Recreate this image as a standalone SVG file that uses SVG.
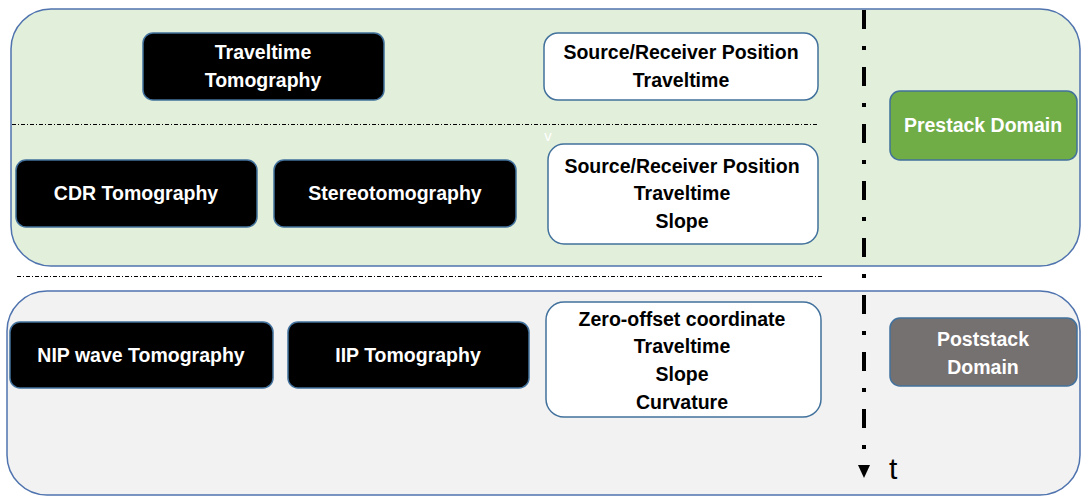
<svg xmlns="http://www.w3.org/2000/svg" width="1081" height="496" viewBox="0 0 1081 496">
  <defs>
    <style>
      .panel { stroke: #4F73AE; stroke-width: 1.5; }
      .dark { fill: #000000; stroke: #41719C; stroke-width: 1.5; }
      .light { fill: #FFFFFF; stroke: #41719C; stroke-width: 1.5; }
      .lbl { font-family: "Liberation Sans", Arial, sans-serif; font-weight: bold; font-size: 19.5px; text-anchor: middle; }
      .w { fill: #FFFFFF; }
      .k { fill: #000000; }
      .sep { stroke: #000000; stroke-width: 1; stroke-dasharray: 4 2 1 2; fill: none; }
    </style>
  </defs>
  <rect width="1081" height="496" fill="#FFFFFF"/>

  <g id="prestack-panel">
    <rect class="panel" x="11" y="9" width="1069" height="257" rx="40" ry="40" fill="#E2EFDA"/>
  </g>
  <g id="poststack-panel">
    <rect class="panel" x="7" y="291" width="1073" height="204" rx="40" ry="40" fill="#F2F2F2"/>
  </g>

  <g id="separators">
    <line class="sep" x1="12" y1="124.5" x2="818" y2="124.5"/>
    <line class="sep" x1="17" y1="276.5" x2="822" y2="276.5"/>
  </g>

  <g id="n-traveltime-tomo">
    <rect class="dark" x="143" y="33" width="241" height="67" rx="10"/>
    <text class="lbl w" x="263" y="59">Traveltime</text>
    <text class="lbl w" x="263" y="87">Tomography</text>
  </g>
  <g id="n-src-rcv-1">
    <rect class="light" x="544" y="33" width="274" height="67" rx="14"/>
    <text class="lbl k" x="681" y="59">Source/Receiver Position</text>
    <text class="lbl k" x="681" y="87">Traveltime</text>
  </g>
  <g id="n-prestack">
    <rect x="890" y="91" width="187" height="69" rx="10" fill="#70AD47" stroke="#41719C" stroke-width="1.5"/>
    <text class="lbl w" x="983" y="132">Prestack Domain</text>
  </g>
  <g id="n-cdr">
    <rect class="dark" x="16" y="160" width="241" height="67" rx="10"/>
    <text class="lbl w" x="136" y="200">CDR Tomography</text>
  </g>
  <g id="n-stereo">
    <rect class="dark" x="274" y="160" width="242" height="67" rx="10"/>
    <text class="lbl w" x="395" y="200">Stereotomography</text>
  </g>
  <g id="n-src-rcv-2">
    <rect class="light" x="548" y="144" width="270" height="100" rx="16"/>
    <text class="lbl k" x="682" y="173">Source/Receiver Position</text>
    <text class="lbl k" x="682" y="200">Traveltime</text>
    <text class="lbl k" x="682" y="228">Slope</text>
  </g>
  <g id="n-nip">
    <rect class="dark" x="10" y="322" width="263" height="66" rx="10"/>
    <text class="lbl w" x="141" y="362">NIP wave Tomography</text>
  </g>
  <g id="n-iip">
    <rect class="dark" x="288" y="322" width="241" height="66" rx="10"/>
    <text class="lbl w" x="408" y="362">IIP Tomography</text>
  </g>
  <g id="n-zero-offset">
    <rect class="light" x="546" y="302" width="275" height="115" rx="18"/>
    <text class="lbl k" x="682" y="326">Zero-offset coordinate</text>
    <text class="lbl k" x="682" y="353">Traveltime</text>
    <text class="lbl k" x="682" y="381">Slope</text>
    <text class="lbl k" x="682" y="409">Curvature</text>
  </g>
  <g id="n-poststack">
    <rect x="890" y="318" width="187" height="68" rx="10" fill="#767171" stroke="#41719C" stroke-width="1.5"/>
    <text class="lbl w" x="983" y="346">Poststack</text>
    <text class="lbl w" x="983" y="374">Domain</text>
  </g>

  <text x="548" y="141" font-family="Liberation Sans, Arial, sans-serif" font-size="15" fill="#FFFFFF" text-anchor="middle">v</text>

  <g id="connectors">
    <line x1="864" y1="10" x2="864" y2="452" stroke="#000000" stroke-width="4" stroke-dasharray="19 17 4 17"/>
    <polygon points="858,465 870,465 864,478" fill="#000000"/>
    <text x="889" y="479" font-family="Liberation Sans, Arial, sans-serif" font-size="30" fill="#000000">t</text>
  </g>
</svg>
